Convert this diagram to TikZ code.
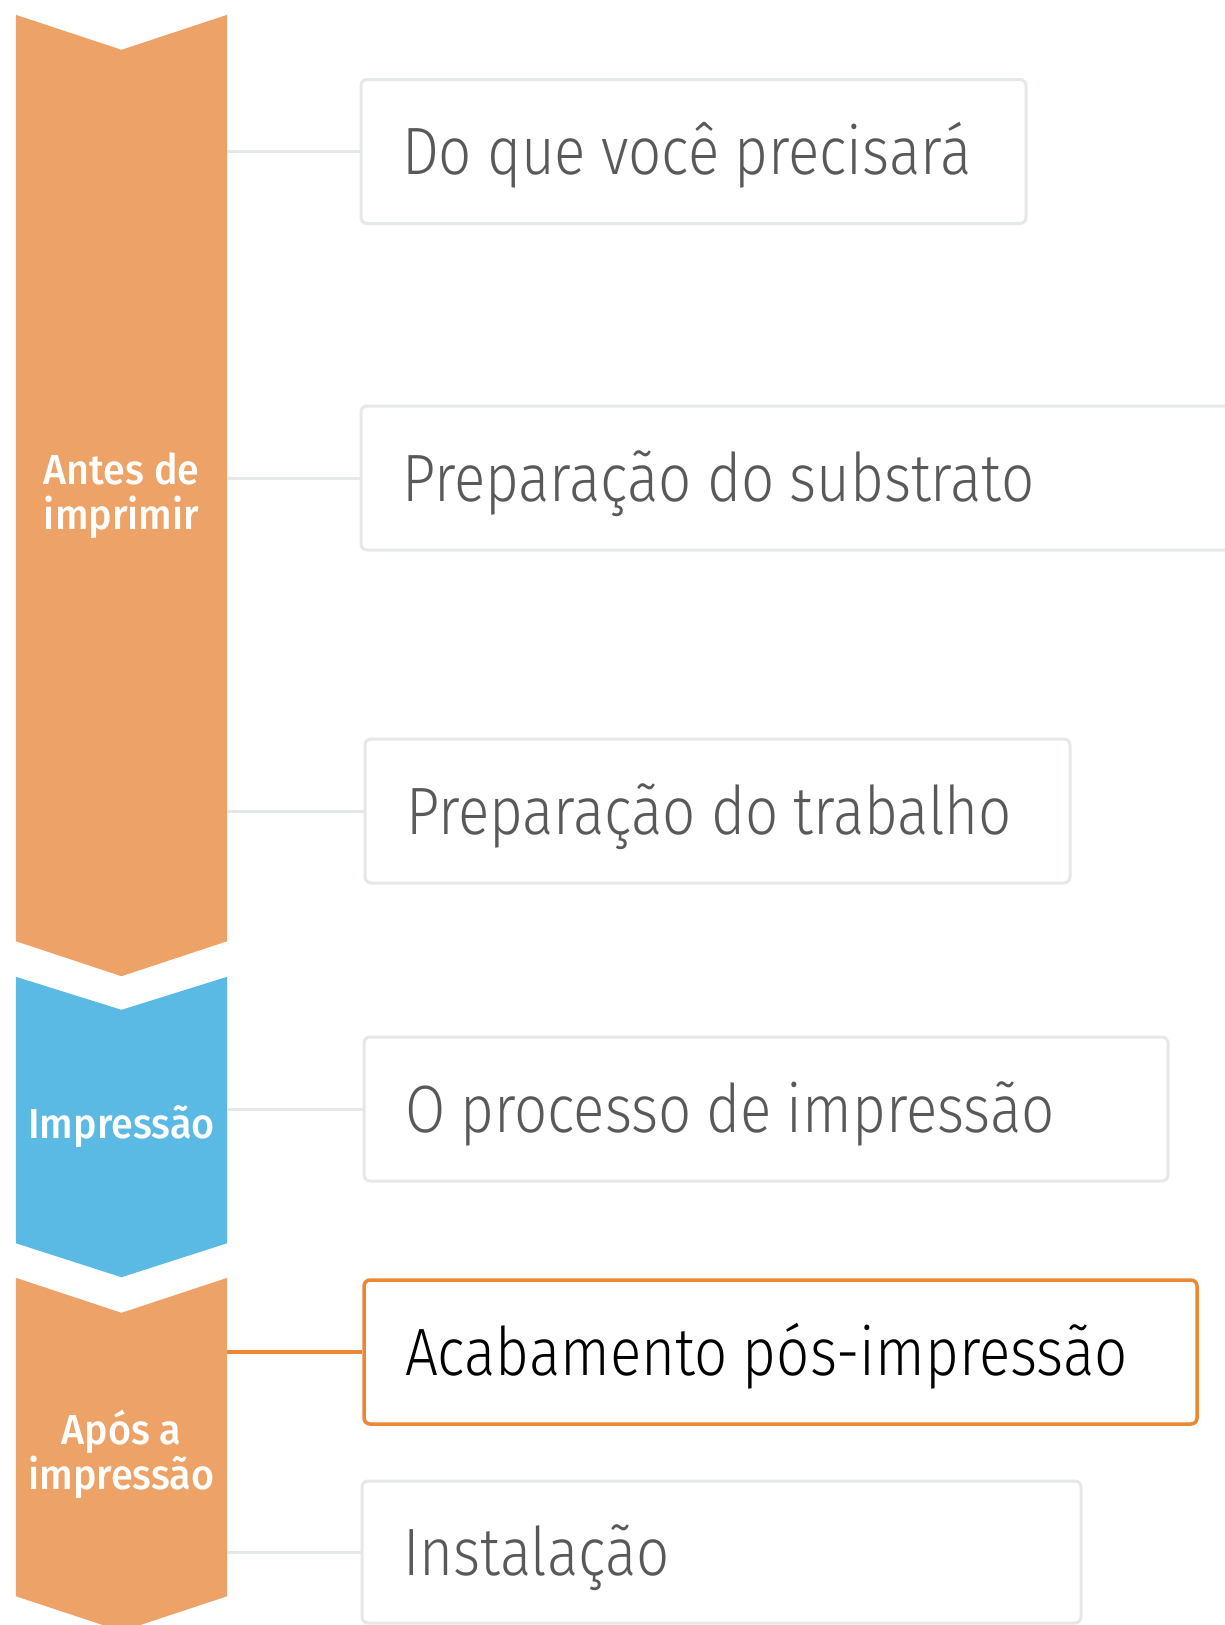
\documentclass[tikz,border=0pt]{standalone}
\usepackage{fontspec}
\setmainfont{Fira Sans}
\newfontfamily\topicfont{Fira Sans Light}[FakeStretch=0.87]
\newfontfamily\stagefont{Fira Sans Medium}[FakeStretch=0.94]
\usepackage{tikz}
\usetikzlibrary{positioning, calc, backgrounds}
\definecolor{stageorange}{RGB}{237, 162, 103}
\definecolor{stageblue}{RGB}{91, 186, 227}
\definecolor{cardborder}{RGB}{229, 232, 232}
\definecolor{cardtext}{RGB}{88, 89, 91}
\definecolor{activeborder}{RGB}{236, 135, 52}
\tikzset{
  stageblock/.style={
    rectangle, minimum width=211pt, inner sep=0pt, align=center,
    text=white, font=\stagefont\fontsize{42}{45}\selectfont
  },
  topicblock/.style={
    rectangle, rounded corners=6pt, draw=cardborder, fill=white, line width=3pt,
    minimum height=144pt, inner xsep=41pt, text height=46pt, text depth=0pt,
    align=left, text=cardtext, font=\topicfont\fontsize{67}{70}\selectfont,
    execute at begin node={\spaceskip=15pt\relax\hbox\bgroup}, execute at end node=\egroup
  },
  activeblock/.style={topicblock, draw=activeborder, line width=3.5pt, text=black},
  linkline/.style={draw=cardborder, line width=3pt},
  activeline/.style={draw=activeborder, line width=3.5pt}
}
\begin{document}
\begin{tikzpicture}[x=1pt, y=-1pt]
  \useasboundingbox (0,0) rectangle (1225,1625);

  % Stages
  \node[stageblock, minimum height=961pt] (antes) at (121.5,495.5) {Antes de\\imprimir};
  \node[stageblock, minimum height=300pt] (impressao) at (121.5,1127) {Impressão};
  \node[stageblock, minimum height=353pt] (apos) at (121.5,1454.5) {Após a\\impressão};

  \begin{scope}[on background layer]
    \fill[white] (0,0) rectangle (1225,1625);
    \fill[stageorange] (antes.north west) -- ($(antes.north)+(0,35)$) -- (antes.north east)
      -- ($(antes.south east)+(0,-35)$) -- (antes.south) -- ($(antes.south west)+(0,-35)$) -- cycle;
    \fill[stageblue] (impressao.north west) -- ($(impressao.north)+(0,33)$) -- (impressao.north east)
      -- ($(impressao.south east)+(0,-34)$) -- (impressao.south) -- ($(impressao.south west)+(0,-34)$) -- cycle;
    \fill[stageorange] (apos.north west) -- ($(apos.north)+(0,35)$) -- (apos.north east)
      -- ($(apos.south east)+(0,-35)$) -- (apos.south) -- ($(apos.south west)+(0,-35)$) -- cycle;
  \end{scope}

  % Topics
  \node[topicblock, text width=583pt] (material) at (693.5,151.5) {Do que você precisará};
  \node[topicblock, text width=797pt] (substrato) at (800.5,478) {Preparação do substrato};
  \node[topicblock, text width=623pt] (trabalho) at (717.5,811) {Preparação do trabalho};
  \node[topicblock, text width=722pt] (processo) at (766,1109) {O processo de impressão};
  \node[activeblock, text width=751pt] (acabamento) at (780.5,1352) {Acabamento pós-impressão};
  \node[topicblock, text width=637pt, minimum height=142pt] (instalacao) at (721.5,1552) {Instalação};

  % Connections
  \draw[linkline] (antes.east |- material.west) -- (material.west);
  \draw[linkline] (antes.east |- substrato.west) -- (substrato.west);
  \draw[linkline] (antes.east |- trabalho.west) -- (trabalho.west);
  \draw[linkline] (impressao.east |- processo.west) -- (processo.west);
  \draw[activeline] (apos.east |- acabamento.west) -- (acabamento.west);
  \draw[linkline] (apos.east |- instalacao.west) -- (instalacao.west);

\end{tikzpicture}
\end{document}
